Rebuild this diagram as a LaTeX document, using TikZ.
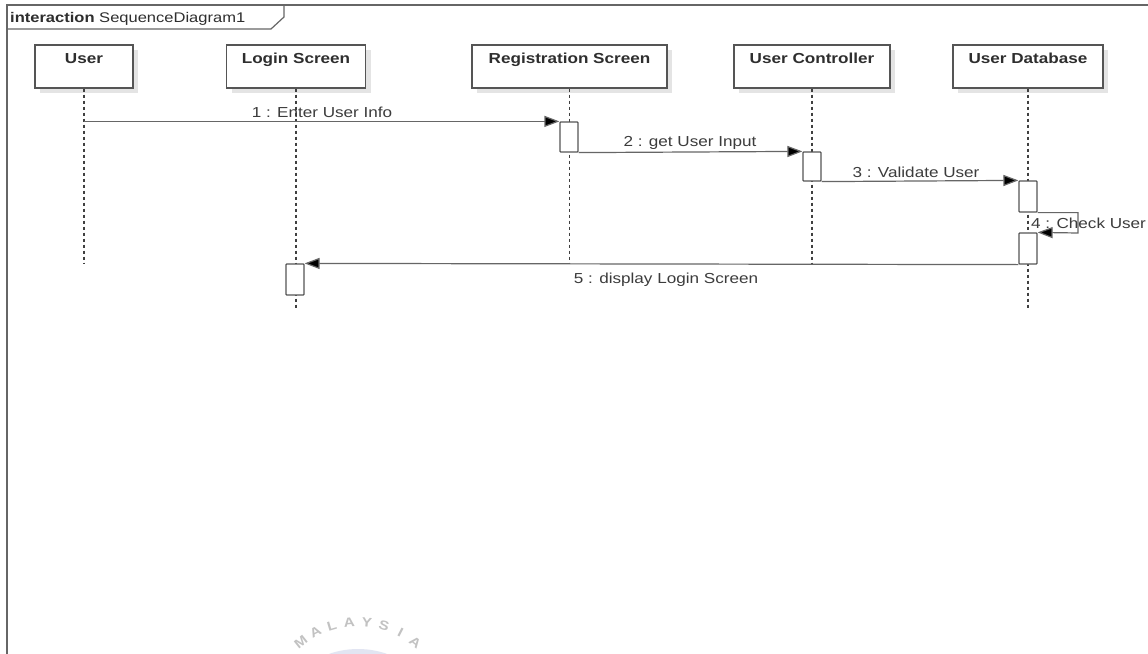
\documentclass[tikz,border=0pt]{standalone}
\usepackage{fontspec}
\setmainfont{Liberation Sans}[FakeStretch=1.18]
\usetikzlibrary{arrows.meta,shadows,calc}

\definecolor{linegray}{HTML}{666666}
\definecolor{boxgray}{HTML}{555555}
\definecolor{headtext}{HTML}{2E2E2E}
\definecolor{msgtext}{HTML}{3C3C3C}
\definecolor{shadowgray}{HTML}{E4E4E4}
\definecolor{markblue}{HTML}{E2E5F2}

\newcommand\msgfont{\fontsize{14.5}{17}\selectfont}
\newcommand\titlefont{\fontsize{14}{16}\selectfont}

\begin{document}
\begin{tikzpicture}[x=1pt,y=-1pt,
  headbox/.style={draw=boxgray, line width=1.3pt, fill=white, inner sep=0pt,
    minimum height=43pt,
    drop shadow={shadow xshift=5pt, shadow yshift=-5pt, fill=shadowgray, opacity=1}},
  headlabel/.style={font=\msgfont\bfseries, text=headtext, inner sep=0pt, anchor=base},
  actbox/.style={draw=boxgray, line width=1.2pt, fill=white, inner sep=0pt,
    minimum width=18pt, rounded corners=0.8pt},
  life/.style={draw=black!75, line width=1.1pt, dash pattern=on 3pt off 3pt},
  msg/.style={draw=linegray, line width=1.2pt,
    -{Triangle[length=15pt,width=11pt,fill=black]}},
  msglabel/.style={font=\msgfont, text=msgtext, inner sep=0pt, anchor=base},
  frameline/.style={draw=linegray, line width=1.2pt},
  sealletter/.style={font=\fontsize{13}{13}\selectfont\bfseries, text=black!24, inner sep=0pt}]

\useasboundingbox (0,0) rectangle (1148,653);
\clip (0,0) rectangle (1148,653);
\fill[white] (0,0) rectangle (1148,653);

% faint seal behind the diagram
\fill[markblue] (358,737) circle[radius=88];
\coordinate (sealc) at (358,714);
\foreach \ch [count=\i] in {M,A,L,A,Y,S,I,A} {
  \pgfmathsetmacro\ang{128.5-(\i-1)*11}
  \node[sealletter, rotate=\ang-90] (seal\i) at ($(sealc)+(\ang:92 and -92)$) {\ch};
}

% interaction frame
\draw[frameline] (7,700) -- (7,5) -- (1200,5);
\draw[frameline] (7,29) -- (271,29) -- (284,17) -- (284,5);
\node[anchor=base west, inner sep=0pt, font=\titlefont, text=headtext] (title) at (10,22)
  {\textbf{interaction} SequenceDiagram1};

% lifeline heads
\node[headbox, minimum width=98pt]  (hUser) at (84,66.5) {};
\node[headbox, minimum width=139pt] (hLog)  at (296,66.5) {};
\node[headbox, minimum width=195pt] (hReg)  at (569.5,66.5) {};
\node[headbox, minimum width=156pt] (hCtl)  at (812,66.5) {};
\node[headbox, minimum width=150pt] (hDb)   at (1028,66.5) {};

\node[headlabel] (tUser) at ($(hUser.north)+(0,19)$) {User};
\node[headlabel] (tLog)  at ($(hLog.north)+(0,19)$)  {Login Screen};
\node[headlabel] (tReg)  at ($(hReg.north)+(0,19)$)  {Registration Screen};
\node[headlabel] (tCtl)  at ($(hCtl.north)+(0,19)$)  {User Controller};
\node[headlabel] (tDb)   at ($(hDb.north)+(0,19)$)   {User Database};

% lifelines
\coordinate (eUser) at ($(hUser.south)+(0,175)$);
\coordinate (eLog)  at ($(hLog.south)+(0,220)$);
\coordinate (eReg)  at ($(hReg.south)+(0,175)$);
\coordinate (eCtl)  at ($(hCtl.south)+(0,175)$);
\coordinate (eDb)   at ($(hDb.south)+(0,220)$);
\draw[life] (hUser.south) -- (eUser);
\draw[life] (hLog.south)  -- (eLog);
\draw[life] (hReg.south)  -- (eReg);
\draw[life] (hCtl.south)  -- (eCtl);
\draw[life] (hDb.south)   -- (eDb);

% activations
\node[actbox, minimum height=30pt] (aReg) at (569,137) {};
\node[actbox, minimum height=29pt] (aCtl) at (812,166.5) {};
\node[actbox, minimum height=31pt] (aDb1) at (1028,196.5) {};
\node[actbox, minimum height=31pt] (aDb2) at (1028,248.5) {};
\node[actbox, minimum height=31pt] (aLog) at (295,279.5) {};

% messages
\coordinate (sUser) at (hUser.south |- aReg.north);
\coordinate (loop) at (1078,233);
\draw[msg] (sUser) -- (aReg.north west);
\draw[msg] (aReg.south east) -- (aCtl.north west);
\draw[msg] (aCtl.south east) -- (aDb1.north west);
\draw[msg] (aDb1.south east) -| (loop) -- (aDb2.north east);
\draw[msg] (aDb2.south west) -- (aLog.north east);

\node[msglabel] (m1) at (322,117) {1 : Enter User Info};
\node[msglabel] (m2) at (690,146) {2 : get User Input};
\node[msglabel] (m3) at (916,177) {3 : Validate User};
\node[msglabel, anchor=base west] (m4) at (1031,228) {4 : Check User};
\node[msglabel] (m5) at (666,283) {5 : display Login Screen};
\end{tikzpicture}
\end{document}
